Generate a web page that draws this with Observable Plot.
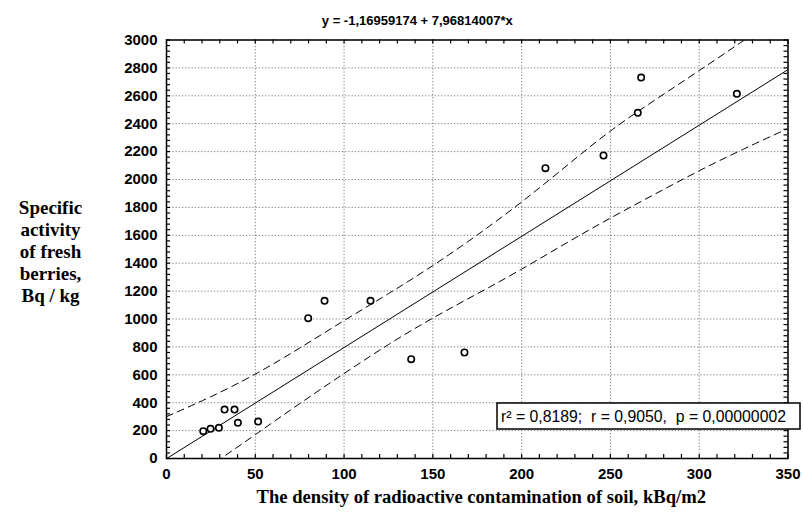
<!DOCTYPE html>
<html><head><meta charset="utf-8">
<script src="https://cdn.jsdelivr.net/npm/d3@7"></script>
<script src="https://cdn.jsdelivr.net/npm/@observablehq/plot@0.6"></script>
<style>body{margin:0;background:#fff;}</style>
</head><body><div id="chart"></div>
<script>
// Observed points
const soilDensity   = [20.7, 24.8, 29.5, 32.7, 38.3, 40.2, 51.6, 79.8, 89.0, 114.9, 137.8, 167.8, 213.4, 246.1, 265.4, 267.3, 321.2];
const berryActivity = [196, 213, 220, 351, 351, 256, 265, 1006, 1130, 1130, 712, 760, 2081, 2172, 2478, 2731, 2614];
// Regression equation shown in title
const intercept = -1.16959174;
const slope = 7.96814007;
const fitX = [0, 350];
// Confidence band
const bandX     = [0, 25, 50, 75, 100, 125, 150, 175, 200, 225, 250, 275, 300, 325, 350];
const bandUpper = [300, 440, 600, 790, 990, 1180, 1380, 1600, 1835, 2095, 2355, 2570, 2780, 2995, 3215];
const bandLower = [-270, -50, 170, 395, 610, 820, 1010, 1180, 1355, 1545, 1725, 1895, 2065, 2220, 2365];
// Ticks
const xTicks = [0, 50, 100, 150, 200, 250, 300, 350];
const yTicks = [0, 200, 400, 600, 800, 1000, 1200, 1400, 1600, 1800, 2000, 2200, 2400, 2600, 2800, 3000];
const xMinor = d3.range(0, 351, 10);
const yMinor = d3.range(0, 3001, 40);
// Texts
const titleText = "y = -1,16959174 + 7,96814007*x";
const statsText = "r² = 0,8189;  r = 0,9050,  p = 0,00000002";
const xLabel = "The density of radioactive contamination of soil, kBq/m2";
const yLabelLines = ["Specific", "activity", "of fresh", "berries,", "Bq / kg"];

const points = soilDensity.map((x, i) => ({x, y: berryActivity[i]}));
const fit = fitX.map(x => ({x, y: intercept + slope * x}));
const band = bandX.map((x, i) => ({x, hi: bandUpper[i], lo: bandLower[i]}));

const W = 803, H = 516, mL = 166, mR = 15.5, mT = 39.5, mB = 58;
const fw = W - mL - mR, fh = H - mT - mB, tk = 4;

const chart = Plot.plot({
  width: W,
  height: H,
  marginLeft: mL,
  marginRight: mR,
  marginTop: mT,
  marginBottom: mB,
  style: {fontFamily: "Liberation Sans, Arial, sans-serif", fontSize: "15px", fontWeight: "bold", background: "#fff", color: "#000"},
  x: {domain: [0, 350], ticks: xTicks},
  y: {domain: [0, 3000], ticks: yTicks},
  marks: [
    Plot.gridX(xTicks, {stroke: "#777", strokeOpacity: 1, strokeDasharray: "1.2,2"}),
    Plot.gridY(yTicks, {stroke: "#777", strokeOpacity: 1, strokeDasharray: "1.2,2"}),
    // inward ticks on all four sides
    Plot.tickX(xMinor, {x: d => d, insetTop: fh - tk, stroke: "#000", strokeWidth: 1.2}),
    Plot.tickX(xMinor, {x: d => d, insetBottom: fh - tk, stroke: "#000", strokeWidth: 1.2}),
    Plot.tickY(yMinor, {y: d => d, insetRight: fw - tk, stroke: "#000", strokeWidth: 1.2}),
    Plot.tickY(yMinor, {y: d => d, insetLeft: fw - tk, stroke: "#000", strokeWidth: 1.2}),
    // labels
    Plot.axisX(xTicks, {anchor: "bottom", tickSize: 0, tickPadding: 10, label: null, tickFormat: d3.format("d"), fontSize: 15, fontWeight: "bold"}),
    Plot.axisY(yTicks, {anchor: "left", tickSize: 0, tickPadding: 9, label: null, tickFormat: d3.format("d"), fontSize: 15, fontWeight: "bold"}),
    Plot.line(band, {x: "x", y: "hi", stroke: "#000", strokeWidth: 1, strokeDasharray: "7,5", curve: "basis", clip: true}),
    Plot.line(band, {x: "x", y: "lo", stroke: "#000", strokeWidth: 1, strokeDasharray: "7,5", curve: "basis", clip: true}),
    Plot.line(fit, {x: "x", y: "y", stroke: "#000", strokeWidth: 1, clip: true}),
    Plot.dot(points, {x: "x", y: "y", r: 3.2, stroke: "#000", strokeWidth: 1.6, fill: "#fff"}),
    Plot.frame({stroke: "#000", strokeWidth: 1.5}),
    Plot.text([titleText], {text: d => d, frameAnchor: "top", lineAnchor: "middle", dx: -60, dy: -19, fontSize: 13, fontWeight: "bold", fontFamily: "Liberation Sans, Arial, sans-serif"}),
    Plot.text([xLabel], {text: d => d, frameAnchor: "bottom", lineAnchor: "middle", dx: 4, dy: 39, fontSize: 18.6, fontWeight: "bold", fontFamily: "Liberation Serif, Times New Roman, serif"}),
    Plot.text([yLabelLines.join("\n")], {text: d => d, frameAnchor: "left", lineAnchor: "middle", dx: -116, dy: 2, lineHeight: 1.16, textAnchor: "middle", fontSize: 19, fontWeight: "bold", fontFamily: "Liberation Serif, Times New Roman, serif"})
  ]
});
document.getElementById("chart").appendChild(chart);

// stats box
const svg = d3.select(chart);
const g = svg.append("g");
g.append("rect").attr("x", 497).attr("y", 403).attr("width", 303).attr("height", 26)
  .attr("fill", "#fff").attr("stroke", "#000").attr("stroke-width", 1.5);
g.append("text").attr("x", 501).attr("y", 416).attr("dy", "0.35em")
  .attr("text-anchor", "start").attr("xml:space", "preserve").style("white-space", "pre")
  .attr("font-family", "Liberation Sans, Arial, sans-serif")
  .attr("font-size", 15.8).attr("font-weight", "normal").text(statsText);
</script>
</body></html>
